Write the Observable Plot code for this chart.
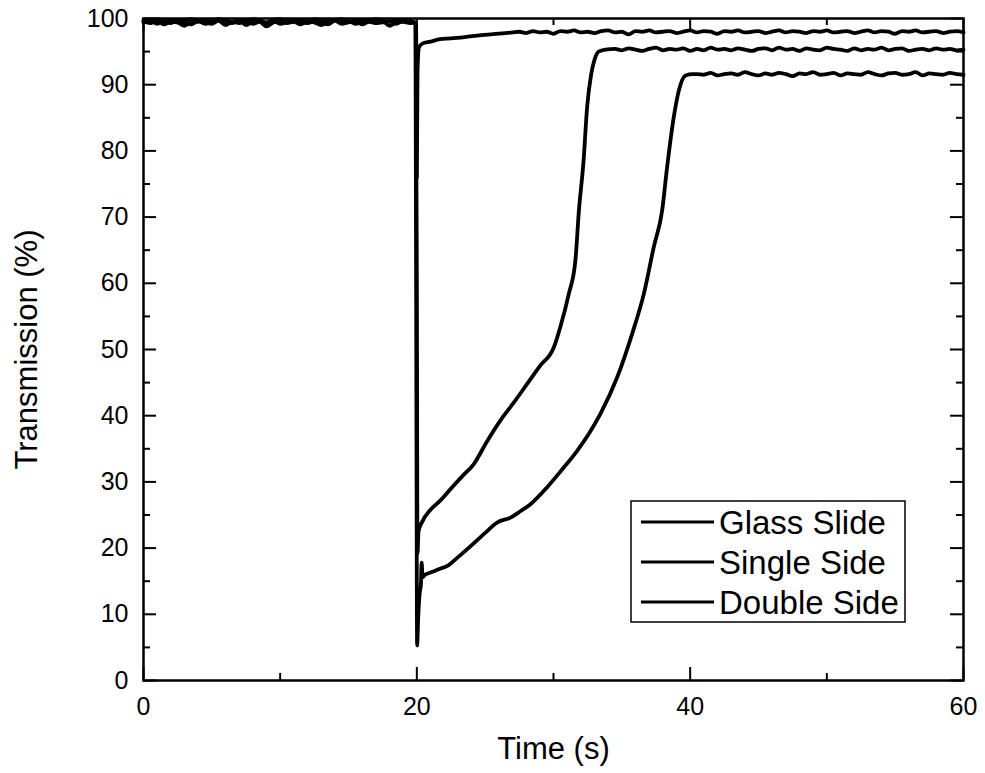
<!DOCTYPE html>
<html>
<head>
<meta charset="utf-8">
<script src="https://cdn.jsdelivr.net/npm/d3@7"></script>
<script src="https://cdn.jsdelivr.net/npm/@observablehq/plot@0.6"></script>
<style>
  html, body { margin: 0; padding: 0; background: #fff; }
  #chart { width: 985px; height: 773px; }
</style>
</head>
<body>
<div id="chart"></div>
<script>
// ---- Data ----
const seriesNames = ["Glass Slide", "Single Side", "Double Side"];

const preTime = [0,0.5,1,1.5,2,2.5,3,3.5,4,4.5,5,5.5,6,6.5,7,7.5,8,8.5,9,9.5,
  10,10.5,11,11.5,12,12.5,13,13.5,14,14.5,15,15.5,16,16.5,17,17.5,18,18.5,19,19.5];

const glassPre = [99.6,99.3,99.7,99.1,99.5,99.4,98.9,99.5,99.6,99.2,99.4,99.7,99.0,99.5,99.3,99.6,99.2,99.5,98.8,99.4,
  99.6,99.3,99.5,99.1,99.6,99.4,99.0,99.5,99.7,99.2,99.4,99.6,99.1,99.5,99.3,99.6,98.9,99.4,99.5,99.3];
const glassDropTime = [19.8,19.95,20.0,20.05,20.15,20.4,21,21.7,22.5,23.5,24.7,26];
const glassDropValue = [99.4,99.0,76,92,95.6,96.2,96.5,96.9,97.0,97.2,97.5,97.7];
const glassFlatTime = [27,27.5,28,28.5,29,29.5,30,30.5,31,31.5,
  32,32.5,33,33.5,34,34.5,35,35.5,36,36.5,
  37,37.5,38,38.5,39,39.5,40,40.5,41,41.5,
  42,42.5,43,43.5,44,44.5,45,45.5,46,46.5,
  47,47.5,48,48.5,49,49.5,50,50.5,51,51.5,
  52,52.5,53,53.5,54,54.5,55,55.5,56,56.5,
  57,57.5,58,58.5,59,59.5,60];
const glassFlatValue = [97.9,98.0,97.8,98.1,97.9,98.0,97.7,98.1,98.0,98.2,
  97.9,98.0,97.8,98.1,98.2,97.9,98.0,97.6,98.1,98.0,
  98.2,97.9,98.0,98.1,97.8,98.0,98.2,97.9,98.1,98.0,
  97.7,98.1,98.0,98.2,97.9,98.0,98.1,97.8,98.0,98.2,
  97.9,98.1,98.0,97.8,98.1,98.0,98.2,97.9,98.0,98.1,
  97.8,98.0,98.2,97.9,98.1,98.0,97.7,98.1,98.0,98.2,
  97.9,98.0,98.1,97.8,98.0,98.1,97.9];

const singlePre = [99.4,99.7,99.2,99.6,99.3,99.8,99.4,99.1,99.6,99.5,99.2,99.7,99.4,99.3,99.8,99.0,99.5,99.6,99.3,99.7,
  99.2,99.5,99.8,99.4,99.3,99.6,99.5,99.1,99.7,99.4,99.6,99.2,99.5,99.8,99.3,99.4,99.6,99.2,99.7,99.5];
const singleDropTime = [19.8,19.92,20.0,20.05,20.12,20.4,21.0,21.73,22.5,23.3,24.17,25.1,26.12,27.1,28.07,29.0,30.02,30.5,31.12,31.6,31.86,32.2,32.46,32.75,32.99,33.3,33.8];
const singleDropValue = [99.5,99.2,60,19.2,22.5,24.0,25.8,27.2,29.0,30.8,32.7,36.0,39.3,42.0,44.8,47.5,50.3,53.4,58.4,63.4,71.0,78.5,86.6,91.5,93.7,95.0,95.3];
const singleFlatTime = [34.5,35,35.5,36,36.5,37,37.5,38,38.5,39,
  39.5,40,40.5,41,41.5,42,42.5,43,43.5,44,
  44.5,45,45.5,46,46.5,47,47.5,48,48.5,49,
  49.5,50,50.5,51,51.5,52,52.5,53,53.5,54,
  54.5,55,55.5,56,56.5,57,57.5,58,58.5,59,
  59.5,60];
const singleFlatValue = [95.4,95.2,95.5,95.3,95.1,95.4,95.6,95.2,95.4,95.3,
  95.5,95.1,95.4,95.2,95.6,95.3,95.4,95.2,95.5,95.3,
  95.1,95.4,95.5,95.2,95.6,95.3,95.4,95.1,95.5,95.3,
  95.2,95.6,95.4,95.3,95.1,95.5,95.2,95.4,95.3,95.6,
  95.2,95.4,95.5,95.1,95.3,95.4,95.2,95.5,95.3,95.4,
  95.2,95.3];

const doublePre = [99.8,99.5,99.9,99.6,99.8,99.4,99.7,99.9,99.5,99.8,99.6,99.9,99.7,99.5,99.8,99.6,99.9,99.7,99.4,99.8,
  99.9,99.6,99.7,99.8,99.5,99.9,99.7,99.6,99.8,99.9,99.5,99.7,99.8,99.6,99.9,99.7,99.5,99.8,99.6,99.7];
const doubleDropTime = [19.8,19.9,19.97,20.02,20.1,20.2,20.3,20.35,20.42,20.55,21.0,21.6,22.3,23.0,24.0,25.0,25.9,26.85,27.6,28.3,29.54,30.6,31.73,32.6,33.44,34.66,35.76,36.61,37.34,37.95,38.31,38.8,39.17,39.66,40.2];
const doubleDropValue = [99.3,99.0,40,5.3,9.5,13.0,14.6,17.8,15.6,15.9,16.3,16.8,17.4,18.6,20.4,22.3,23.9,24.6,25.6,26.6,29.2,31.8,34.7,37.3,40.3,45.8,52.4,58.4,65.5,71.0,77.5,85.1,89.1,91.4,91.6];
const doubleFlatTime = [40.5,41,41.5,42,42.5,43,43.5,44,44.5,45,
  45.5,46,46.5,47,47.5,48,48.5,49,49.5,50,
  50.5,51,51.5,52,52.5,53,53.5,54,54.5,55,
  55.5,56,56.5,57,57.5,58,58.5,59,59.5,60];
const doubleFlatValue = [91.6,91.5,91.8,91.4,91.6,91.7,91.5,91.9,91.6,91.4,
  91.7,91.5,91.8,91.6,91.3,91.7,91.6,91.9,91.5,91.6,
  91.8,91.4,91.7,91.6,91.5,91.9,91.6,91.4,91.7,91.8,
  91.5,91.6,91.9,91.4,91.7,91.6,91.5,91.8,91.6,91.5];

const xMajorTicks = [0, 20, 40, 60];
const xMinorTicks = [10, 30, 50];
const yMajorTicks = [0, 10, 20, 30, 40, 50, 60, 70, 80, 90, 100];
const yMinorTicks = [5, 15, 25, 35, 45, 55, 65, 75, 85, 95];

// ---- Build table ----
const seriesParts = [
  [[preTime, glassPre], [glassDropTime, glassDropValue], [glassFlatTime, glassFlatValue]],
  [[preTime, singlePre], [singleDropTime, singleDropValue], [singleFlatTime, singleFlatValue]],
  [[preTime, doublePre], [doubleDropTime, doubleDropValue], [doubleFlatTime, doubleFlatValue]]
];
const rows = [];
seriesParts.forEach((parts, i) => {
  parts.forEach(([ts, vs]) => {
    const n = Math.min(ts.length, vs.length);
    for (let j = 0; j < n; j++) rows.push({series: seriesNames[i], t: ts[j], v: vs[j]});
  });
});

const W = 985, H = 773;
const mL = 143, mR = 22, mT = 18, mB = 93;
const plotW = W - mL - mR, plotH = H - mT - mB;
const majorLen = 13, minorLen = 7;
const FONT = "'Liberation Sans', Arial, Helvetica, sans-serif";

const chart = Plot.plot({
  width: W,
  height: H,
  marginLeft: mL,
  marginRight: mR,
  marginTop: mT,
  marginBottom: mB,
  style: {fontFamily: FONT, color: "#000", background: "#fff"},
  x: {domain: [0, 60], axis: null},
  y: {domain: [0, 100], axis: null},
  marks: [
    Plot.line(rows, {x: "t", y: "v", z: "series", stroke: "#000", strokeWidth: 3.8, strokeLinejoin: "round", curve: "monotone-x"}),
    // inward ticks on all four sides
    Plot.tickY(yMajorTicks, {y: d => d, insetRight: plotW - majorLen, strokeWidth: 2, stroke: "#000"}),
    Plot.tickY(yMinorTicks, {y: d => d, insetRight: plotW - minorLen, strokeWidth: 2, stroke: "#000"}),
    Plot.tickY(yMajorTicks, {y: d => d, insetLeft: plotW - majorLen, strokeWidth: 2, stroke: "#000"}),
    Plot.tickY(yMinorTicks, {y: d => d, insetLeft: plotW - minorLen, strokeWidth: 2, stroke: "#000"}),
    Plot.tickX(xMajorTicks, {x: d => d, insetTop: plotH - majorLen, strokeWidth: 2, stroke: "#000"}),
    Plot.tickX(xMinorTicks, {x: d => d, insetTop: plotH - minorLen, strokeWidth: 2, stroke: "#000"}),
    Plot.tickX(xMajorTicks, {x: d => d, insetBottom: plotH - majorLen, strokeWidth: 2, stroke: "#000"}),
    Plot.tickX(xMinorTicks, {x: d => d, insetBottom: plotH - minorLen, strokeWidth: 2, stroke: "#000"}),
    Plot.frame({stroke: "#000", strokeWidth: 2.5}),
    // tick labels
    Plot.axisX(xMajorTicks, {tickSize: 0, tickPadding: 17, fontSize: 25, label: null}),
    Plot.axisY(yMajorTicks, {tickSize: 0, tickPadding: 15, fontSize: 25, label: null}),
    // axis titles
    Plot.text(["Time (s)"], {frameAnchor: "bottom", dy: 78, fontSize: 31, fill: "#000", textAnchor: "middle"}),
    Plot.text(["Transmission (%)"], {frameAnchor: "left", dx: -116, rotate: -90, fontSize: 31, fill: "#000", textAnchor: "middle"})
  ]
});

document.getElementById("chart").appendChild(chart);

// ---- Legend (inside the plot, drawn with d3) ----
const svg = d3.select(chart);
const lg = svg.append("g").attr("class", "legend").attr("text-anchor", "start");
lg.append("rect")
  .attr("x", 631).attr("y", 501).attr("width", 274).attr("height", 121)
  .attr("fill", "#fff").attr("stroke", "#000").attr("stroke-width", 1.5);
const rowY = [522, 562, 602];
seriesNames.forEach((name, i) => {
  lg.append("line")
    .attr("x1", 641).attr("x2", 714)
    .attr("y1", rowY[i]).attr("y2", rowY[i])
    .attr("stroke", "#000").attr("stroke-width", 3);
  lg.append("text")
    .attr("x", 719).attr("y", rowY[i]).attr("dy", "0.36em")
    .attr("text-anchor", "start")
    .attr("font-size", 33)
    .attr("font-family", FONT)
    .attr("fill", "#000")
    .text(name);
});
</script>
</body>
</html>
